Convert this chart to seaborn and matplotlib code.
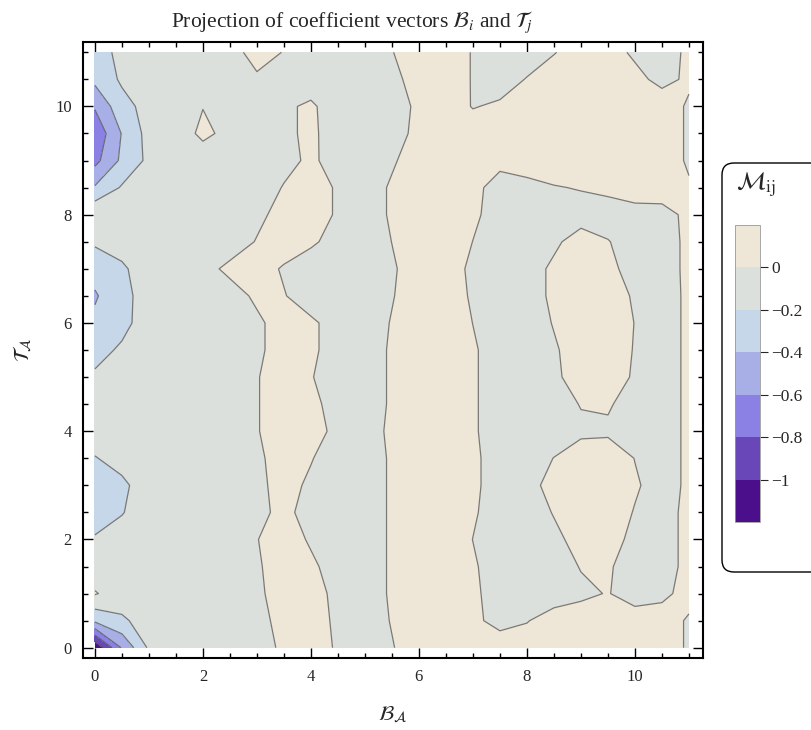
import numpy as np
import matplotlib
matplotlib.use("Agg")
import matplotlib.pyplot as plt
from matplotlib.patches import FancyBboxPatch
from matplotlib.ticker import MultipleLocator
import seaborn as sns

# grid of the projection M_ij (x = B_A, y = T_A)
x_vals = np.arange(0, 11.01, 0.5)
y_vals = np.arange(0, 11.01, 0.5)

# one row per y value, columns x = 0, 0.5, ..., 11
r00 = [-1.18, -0.58, -0.17, -0.1, -0.1, -0.1, -0.07, 0.03, 0.08, -0.02, -0.1, -0.01, 0.09, 0.1, 0.1, 0.1, 0.1, 0.1, 0.1, 0.1, 0.1, 0.08, -0.02]
r05 = [-0.36, -0.23, -0.12, -0.1, -0.1, -0.1, -0.05, 0.05, 0.07, -0.03, -0.09, 0.01, 0.1, 0.1, 0.04, -0.06, -0.01, 0.09, 0.1, 0.1, 0.1, 0.08, -0.02]
r10 = [0.015, -0.1, -0.1, -0.1, -0.1, -0.1, -0.03, 0.07, 0.06, -0.04, -0.08, 0.02, 0.1, 0.1, 0.03, -0.07, -0.1, -0.1, -0.04, 0.01, -0.09, -0.04, 0.06]
r15 = [-0.12, -0.1, -0.1, -0.1, -0.1, -0.1, -0.02, 0.08, 0.03, -0.07, -0.08, 0.02, 0.1, 0.1, 0.02, -0.08, -0.1, -0.09, 0.01, 0.02, -0.08, -0.06, 0.04]
r20 = [-0.18, -0.12, -0.1, -0.1, -0.1, -0.1, -0.005, 0.08, -0.02, -0.1, -0.08, 0.02, 0.1, 0.1, -0.002, -0.1, -0.1, -0.04, 0.06, 0.06, -0.04, -0.06, 0.04]
r25 = [-0.3, -0.21, -0.1, -0.1, -0.1, -0.1, -0.04, 0.04, -0.06, -0.1, -0.08, 0.02, 0.1, 0.1, 0.02, -0.08, -0.09, 0.01, 0.1, 0.09, -0.01, -0.06, 0.04]
r30 = [-0.33, -0.24, -0.1, -0.1, -0.1, -0.1, -0.04, 0.06, -0.03, -0.1, -0.08, 0.02, 0.1, 0.1, 0.03, -0.07, -0.05, 0.05, 0.1, 0.1, 0.02, -0.07, 0.03]
r35 = [-0.21, -0.13, -0.1, -0.1, -0.1, -0.1, -0.03, 0.07, 0.01, -0.09, -0.08, 0.02, 0.1, 0.1, 0.03, -0.07, -0.1, 0.004, 0.1, 0.1, -0.004, -0.07, 0.03]
r40 = [-0.1, -0.1, -0.1, -0.1, -0.1, -0.1, -0.01, 0.09, 0.06, -0.04, -0.07, 0.03, 0.1, 0.1, 0.02, -0.08, -0.1, -0.1, -0.04, -0.03, -0.1, -0.07, 0.03]
r45 = [-0.1, -0.1, -0.1, -0.1, -0.1, -0.1, -0.01, 0.09, 0.04, -0.06, -0.08, 0.02, 0.1, 0.1, 0.02, -0.08, -0.1, -0.09, 0.01, 0.02, -0.08, -0.07, 0.03]
r50 = [-0.17, -0.1, -0.1, -0.1, -0.1, -0.1, -0.01, 0.09, 0.01, -0.09, -0.08, 0.02, 0.1, 0.1, 0.02, -0.08, -0.1, -0.03, 0.07, 0.08, -0.02, -0.07, 0.03]
r55 = [-0.27, -0.17, -0.1, -0.1, -0.1, -0.1, -0.03, 0.07, 0.03, -0.07, -0.08, 0.02, 0.1, 0.1, 0.02, -0.08, -0.1, -0.02, 0.08, 0.09, -0.01, -0.07, 0.03]
r60 = [-0.36, -0.26, -0.1, -0.1, -0.1, -0.1, -0.03, 0.07, 0.03, -0.07, -0.09, 0.01, 0.1, 0.1, -0.002, -0.1, -0.09, 0.01, 0.1, 0.1, -0.004, -0.07, 0.03]
r65 = [-0.42, -0.27, -0.1, -0.1, -0.1, -0.07, 0.03, 0.01, -0.09, -0.1, -0.1, -0.01, 0.09, 0.08, -0.02, -0.1, -0.07, 0.03, 0.1, 0.08, -0.02, -0.07, 0.03]
r70 = [-0.33, -0.23, -0.1, -0.1, -0.06, 0.04, 0.08, -0.02, -0.1, -0.1, -0.1, -0.02, 0.08, 0.07, -0.03, -0.1, -0.07, 0.03, 0.1, 0.04, -0.06, -0.06, 0.03]
r75 = [-0.17, -0.12, -0.1, -0.1, -0.1, -0.09, 0.01, 0.1, 0.03, -0.07, -0.1, 0.002, 0.1, 0.1, -0.002, -0.1, -0.1, -0.03, 0.07, 0.01, -0.1, -0.06, 0.03]
r80 = [-0.02, -0.1, -0.1, -0.1, -0.1, -0.1, -0.04, 0.06, 0.08, -0.02, -0.08, 0.02, 0.1, 0.1, 0.03, -0.07, -0.1, -0.1, -0.07, -0.1, -0.06, -0.06, 0.04]
r85 = [-0.38, -0.18, -0.1, -0.1, -0.1, -0.1, -0.09, 0.01, 0.08, -0.02, -0.08, 0.02, 0.1, 0.1, 0.1, -0.15, -0.06, -0.01, 0.01, 0.05, 0.08, 0.09, 0.02]
r90 = [-0.66, -0.36, -0.155, -0.1, -0.1, -0.1, -0.1, -0.05, 0.03, -0.07, -0.1, -0.02, 0.08, 0.1, 0.1, 0.1, 0.1, 0.1, 0.1, 0.1, 0.1, 0.1, -0.025]
r95 = [-0.75, -0.39, -0.13, -0.1, 0.04, -0.05, -0.1, -0.04, 0.04, -0.1, -0.1, -0.06, 0.04, 0.1, 0.1, 0.1, 0.1, 0.1, 0.1, 0.1, 0.1, 0.1, -0.025]
r100 = [-0.58, -0.27, -0.13, -0.1, -0.005, -0.1, -0.1, -0.03, 0.03, -0.1, -0.1, -0.07, 0.03, 0.1, -0.01, 0.03, 0.1, 0.1, 0.1, 0.1, 0.1, 0.1, -0.025]
r105 = [-0.35, -0.17, -0.1, -0.1, -0.1, -0.1, -0.02, -0.1, -0.1, -0.1, -0.1, -0.04, 0.06, 0.09, -0.01, -0.09, 0.01, 0.1, 0.1, 0.1, 0.05, -0.05, 0.03]
r110 = [-0.25, -0.17, -0.1, -0.1, -0.1, -0.05, 0.05, -0.005, -0.1, -0.1, -0.1, -0.006, 0.09, 0.09, -0.01, -0.1, -0.1, -0.01, 0.09, 0.07, -0.03, -0.07, 0.03]

levels = [-1.2, -1.0, -0.8, -0.6, -0.4, -0.2, 0.0, 0.2]
band_colors = ["#4b0f8c", "#6a47b8", "#8b80e4", "#a8aee6", "#c5d7e8", "#dbe0dd", "#eee6d6"]
cbar_ticks = [0, -0.2, -0.4, -0.6, -0.8, -1.0]
cbar_labels = ["0", "\u22120.2", "\u22120.4", "\u22120.6", "\u22120.8", "\u22121"]

m_ij = np.array([r00, r05, r10, r15, r20, r25, r30, r35, r40, r45, r50, r55,
                 r60, r65, r70, r75, r80, r85, r90, r95, r100, r105, r110])

sns.set_style("ticks")
plt.rcParams["font.family"] = ["Liberation Serif", "DejaVu Serif"]
plt.rcParams["mathtext.fontset"] = "stix"

fig = plt.figure(figsize=(8.12, 7.30), dpi=100)
ax = fig.add_axes([83/812, 72/730, 620/812, 616/730])

X, Y = np.meshgrid(x_vals, y_vals)
cs = ax.contourf(X, Y, m_ij, levels=levels, colors=band_colors)
ax.contour(X, Y, m_ij, levels=levels[1:-1], colors="#555555", linewidths=0.9,
           alpha=0.75, linestyles="solid")

ax.set_xlim(-0.22, 11.26)
ax.set_ylim(-0.19, 11.19)
ax.xaxis.set_major_locator(MultipleLocator(2))
ax.xaxis.set_minor_locator(MultipleLocator(0.5))
ax.yaxis.set_major_locator(MultipleLocator(2))
ax.yaxis.set_minor_locator(MultipleLocator(0.5))
ax.tick_params(which="both", direction="in", top=True, right=True, color="black", width=1.0)
ax.tick_params(which="major", length=7, labelsize=12, pad=8)
ax.tick_params(which="minor", length=3.5)
for s in ax.spines.values():
    s.set_linewidth(1.5)
    s.set_color("black")

fig.text(352/812, (730-22)/730,
         r"Projection of coefficient vectors $\mathcal{B}_i$ and $\mathcal{T}_j$",
         fontsize=15.5, ha="center", va="center")
ax.set_xlabel(r"$\mathcal{B}_{\mathcal{A}}$", fontsize=15, labelpad=14)
ax.set_ylabel(r"$\mathcal{T}_{\mathcal{A}}$", fontsize=15, labelpad=16)

# legend box with rounded corners (pixel coordinates)
bg = fig.add_axes([0, 0, 1, 1], zorder=-1)
bg.set_xlim(0, 812)
bg.set_ylim(730, 0)
bg.axis("off")
bg.add_patch(FancyBboxPatch((722, 163), 130, 409, boxstyle="round,pad=0,rounding_size=12",
                            facecolor="white", edgecolor="black", linewidth=1.0, clip_on=False))

cax = fig.add_axes([735/812, (730-522)/730, 25/812, 297/730])
cb = fig.colorbar(cs, cax=cax)
cb.set_ticks(cbar_ticks)
cb.set_ticklabels(cbar_labels)
cb.outline.set_linewidth(0.6)
cb.outline.set_edgecolor("#999999")
cax.tick_params(length=6, width=0.8, labelsize=12.5, pad=2, direction="out")
fig.text(756/812, (730-185)/730, r"$\mathcal{M}_{\rm ij}$", fontsize=18, ha="center", va="center")

fig.savefig("out.png", dpi=100)
